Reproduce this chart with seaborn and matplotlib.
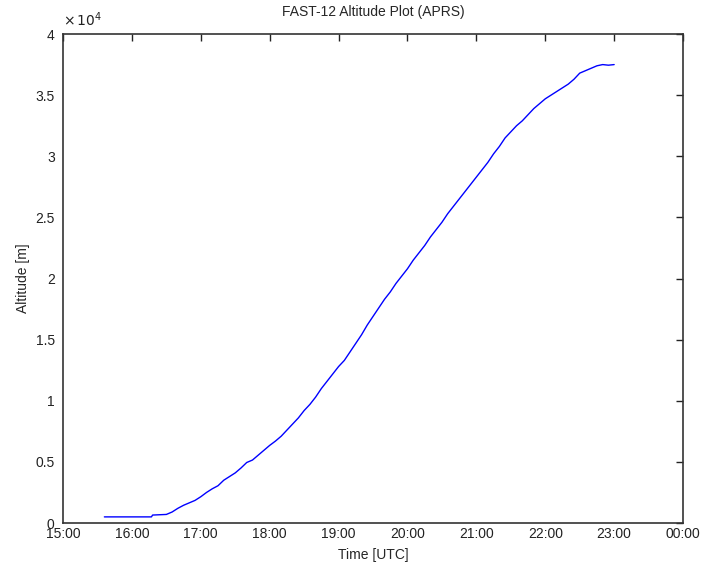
import pandas as pd
import numpy as np

import matplotlib.pyplot as plt
import matplotlib.dates as mdates
from matplotlib.ticker import FuncFormatter, MultipleLocator
import seaborn as sns

# APRS position reports
times = [
    "15:36", "15:50", "16:00", "16:10", "16:17", "16:18", "16:30", "16:35",
    "16:40", "16:45", "16:50", "16:55", "17:00", "17:05", "17:10", "17:15",
    "17:20", "17:25", "17:30", "17:35", "17:40", "17:45", "17:50", "17:55",
    "18:00", "18:05", "18:10", "18:15", "18:20", "18:25", "18:30", "18:35",
    "18:40", "18:45", "18:50", "18:55", "19:00", "19:05", "19:10", "19:15",
    "19:20", "19:25", "19:30", "19:35", "19:40", "19:45", "19:50", "19:55",
    "20:00", "20:05", "20:10", "20:15", "20:20", "20:25", "20:30", "20:35",
    "20:40", "20:45", "20:50", "20:55", "21:00", "21:05", "21:10", "21:15",
    "21:20", "21:25", "21:30", "21:35", "21:40", "21:45", "21:50", "21:55",
    "22:00", "22:05", "22:10", "22:15", "22:20", "22:25", "22:30", "22:35",
    "22:40", "22:45", "22:50", "22:55", "23:00",
]
altitude = [
    500, 500, 500, 500, 500, 650, 700, 900,
    1200, 1450, 1650, 1850, 2150, 2500, 2800, 3050,
    3500, 3800, 4100, 4500, 4950, 5150, 5550, 5950,
    6350, 6700, 7100, 7600, 8100, 8600, 9200, 9700,
    10300, 11000, 11600, 12200, 12800, 13300, 14000, 14700,
    15400, 16200, 16900, 17600, 18300, 18900, 19600, 20200,
    20800, 21500, 22100, 22700, 23400, 24000, 24600, 25300,
    25900, 26500, 27100, 27700, 28300, 28900, 29500, 30200,
    30800, 31500, 32000, 32500, 32900, 33400, 33900, 34300,
    34700, 35000, 35300, 35600, 35900, 36300, 36800, 37000,
    37200, 37400, 37500, 37450, 37500,
]

day = "2012-01-01 "
df = pd.DataFrame({"time": pd.to_datetime([day + t for t in times]),
                   "altitude": altitude})

sns.set_style("white")
plt.rcParams["font.family"] = ["Liberation Sans", "DejaVu Sans"]

fig = plt.figure(figsize=(7.01, 5.67), dpi=100)
ax = fig.add_axes([0.0899, 0.0776, 0.8845, 0.8624])

sns.lineplot(data=df, x="time", y="altitude", ax=ax, color="#0000ff",
             linewidth=1.0)

ax.set_xlim(pd.Timestamp(day + "15:00"), pd.Timestamp("2012-01-02 00:00"))
ax.set_ylim(0, 40000)
ax.xaxis.set_major_locator(mdates.HourLocator())
ax.xaxis.set_major_formatter(mdates.DateFormatter("%H:%M"))
ax.yaxis.set_major_locator(MultipleLocator(5000))
ax.yaxis.set_major_formatter(FuncFormatter(lambda v, p: "%g" % (v / 1e4)))

ax.tick_params(direction="in", length=5, width=1, top=True, right=True,
               labelsize=10, colors="#222222")
ax.tick_params(axis="x", pad=3)
ax.tick_params(axis="y", pad=6)
for s in ax.spines.values():
    s.set_color("#333333")
    s.set_linewidth(1.2)

ax.text(0.0, 1.01, r"$\times\,10^{4}$", transform=ax.transAxes, fontsize=10,
        ha="left", va="bottom", color="#222222")

ax.set_title("FAST-12 Altitude Plot (APRS)", fontsize=10, pad=13)
ax.set_xlabel("Time [UTC]", fontsize=10, labelpad=5)
ax.set_ylabel("Altitude [m]", fontsize=10, labelpad=4)

fig.savefig("out.png", dpi=100)
